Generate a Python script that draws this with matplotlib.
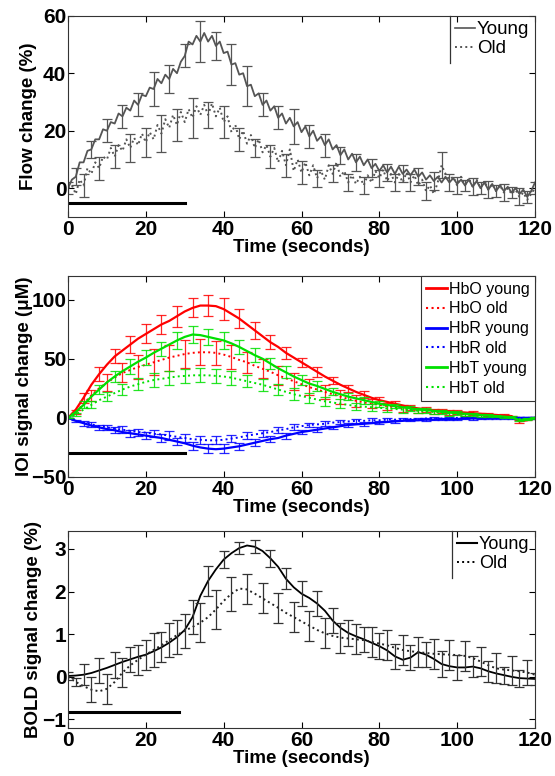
import matplotlib
matplotlib.use("Agg")
import matplotlib.pyplot as plt
from matplotlib.lines import Line2D

# ---------------- Panel 1: flow change (%) ----------------
flow_t = list(range(0, 121))
flow_young = [
    0, 3, 4, 9, 9, 13, 13.5, 17, 17, 20.5,
    20, 23, 22.5, 26, 25, 28, 27, 30.5, 29, 32.5,
    32, 35, 34.5, 38, 36.5, 39.5, 38, 41.5, 40, 44,
    46, 51, 50, 53, 51, 54, 51, 53, 49.5, 51,
    47, 47.5, 43, 43.5, 39.5, 40, 35.5, 36, 32, 33,
    29, 30.5, 27, 28.5, 24.5, 26, 22.5, 24.5, 21.5, 23,
    19.5, 21.5, 18, 20, 16.5, 18, 15, 17, 13.5, 15,
    11.5, 13.5, 10, 12, 9, 11, 8, 10, 7, 8.5,
    6, 8, 5.5, 7.5, 5, 7.5, 5, 6.5, 4.5, 6.5,
    4, 5.5, 3, 4.5, 2.5, 4, 2, 4, 2, 3.5,
    1.5, 3, 1, 3, 0.5, 2.5, 0, 2, -0.5, 1.5,
    -1, 1, -1, 0.5, -1.5, 0, -2, -0.5, -3, -1,
    2]
flow_old = [
    0, 1, -2, 3, 1, 7, 5, 9, 7, 11,
    10, 14, 11, 15, 13, 17, 14, 17.5, 15, 19,
    16, 19.5, 17, 22, 19, 24, 21, 25.5, 22, 26.5,
    23, 27.5, 24.5, 28.5, 25.5, 29, 25.5, 29.5, 25, 28,
    23, 25, 19.5, 22, 17, 20, 15.5, 18.5, 14, 17,
    12.5, 15, 11, 14, 9, 13, 8, 13.5, 6, 10,
    5.5, 9, 4.5, 8, 3.5, 6, 3, 8, 5, 9,
    4, 6, 2, 4.5, 1.5, 4, 1, 4.5, 2, 6,
    3.5, 6.5, 2.5, 5, 2, 5, 2, 5.5, 2, 4.5,
    1, 3, -1, 1, -2, 2, 8, 5, 3, 4,
    1, 4, 1, 3.5, 0.5, 3, 0, 2.5, -0.5, 1.5,
    -1, 1, -1.5, 0, -2, -0.5, -3, -1.5, -4, -2,
    0]
flow_young_err_t = list(range(2, 120, 4))
flow_young_err = [3, 3, 4, 4, 4, 6, 5, 4, 7, 5, 7, 7, 4, 4, 6,
                  4, 4, 3, 3, 3, 3, 3, 3, 3, 3, 2, 2, 2, 2, 2]
flow_old_err_t = list(range(0, 121, 4))
flow_old_err = [2, 4, 4, 4, 5, 5, 6.5, 5.5, 7, 4.5, 5.5, 4, 3, 4, 4, 4,
                3, 3, 3, 3, 3, 3, 3, 3, 4.5, 3, 3, 3, 3, 3, 2]

# ---------------- Panel 2: IOI signal change (uM) ----------------
ioi_t = list(range(0, 121, 2))
hbo_young = [0, 7, 17, 28, 37, 45, 52, 57, 62, 67, 71, 75, 79, 82, 86, 90, 93, 95, 95, 94.5,
             92, 88, 84, 79, 74, 69, 64, 60, 55, 51, 47, 43, 39, 35, 31.5, 28, 25, 22, 19.5, 17,
             15, 13.5, 12, 10.5, 9, 8, 7, 6.5, 6, 5.5, 5, 4.5, 4, 3.5, 3, 2.5, 2, 1.5, -3, -2, 0]
hbo_old = [0, 5, 12, 19, 25, 30, 34, 38, 40.5, 43, 45, 47, 49, 51, 52.5, 54, 55, 55.5, 55.5, 55,
           53.5, 51.5, 49, 47, 44, 41.5, 39, 36, 33.5, 31, 28.5, 26, 24, 22, 20, 18, 16, 14.5, 13, 12,
           11, 10, 9, 8, 7, 6.5, 6, 5.5, 5, 4.5, 4, 3.5, 3, 2.5, 2, 1.5, 1, 1, 0, -1, 0]
hbr_young = [0, -2.5, -4.5, -6.5, -8, -9.5, -10.5, -12, -13, -14, -15, -16, -17, -18.5, -20,
             -21.5, -23.5, -25, -26, -26.5, -26, -25, -24, -22.5, -21, -19.5, -18, -17, -15, -13.5,
             -12, -11, -10, -9, -8, -7, -6, -5.5, -5, -4.5, -4, -3.5, -3, -2.5, -2, -2, -1.5, -1.5,
             -1, -1, -1, -0.5, -0.5, -0.5, 0, 0, 0, 0, 0, 0, 0]
hbr_old = [0, -2.5, -4, -5.5, -7, -8, -9, -10, -11, -12, -12.5, -13.5, -14, -15, -16, -17, -18,
           -18.5, -19, -19, -18.5, -17.5, -16.5, -15, -14, -13, -12, -10.5, -9.5, -8, -7, -6, -5.5,
           -5, -4, -3.5, -3, -2.5, -2.5, -2, -2, -1.5, -1.5, -1, -1, -1, -0.5, -0.5, -0.5, -0.5,
           0, 0, 0, 0, 0, 0, 0, 0, 0, 0, 0]
hbt_young = [0, 5, 11, 18, 24, 30, 35, 39.5, 43.5, 47.5, 51, 55, 58.5, 62, 65.5, 68.5, 70.5, 70,
             68.5, 67, 65.5, 63, 60, 56.5, 53, 50, 46, 42, 38.5, 35, 32, 29, 27, 24.5, 22, 20, 18,
             16.5, 15, 13.5, 12, 11, 10, 9, 8, 7, 6.5, 6, 5, 4.5, 4, 3.5, 3, 2.5, 2, 1.5, 1, 0.5,
             -2, -1.5, 0]
hbt_old = [0, 3, 7, 11, 15, 18, 21, 24, 26.5, 28.5, 30.5, 32, 33, 34, 35, 35.5, 36, 36, 36, 35.5,
           35, 34, 32.5, 31, 29.5, 28, 26, 24, 22, 20, 18.5, 17, 15.5, 14, 13, 12, 11, 10, 9.5, 9,
           8.5, 8, 7.5, 7, 6.5, 6, 5.5, 5, 4.5, 4, 3.5, 3, 2.5, 2, 1.5, 1.5, 1, 0.5, -1, -1, 0]
# error bars: "young" at t = 0,4,...,120 ; "old" at t = 2,6,...,118
hbo_young_err = [0, 4, 6, 6, 7, 8, 8, 9, 8, 9, 9, 8, 7, 6, 5, 4, 4, 3, 3, 3, 2.5, 2, 2, 2,
                 1.5, 1.5, 1.5, 1, 1, 1, 1]
hbo_old_err = [2, 5, 7, 8, 10, 11, 11, 12, 11, 10, 10, 9, 8, 8, 7, 7, 6, 6, 5, 4, 3, 3, 2, 2,
               2, 1.5, 1.5, 1, 1, 1]
hbt_young_err = [0, 3, 4, 5, 6, 6, 6, 7, 7, 7, 7, 6, 6, 5, 5, 4, 4, 3, 3, 3, 2.5, 2, 2, 2,
                 1.5, 1.5, 1, 1, 1, 1, 1]
hbt_old_err = [1, 3, 4, 5, 5, 6, 6, 6, 6, 6, 6, 5, 5, 5, 5, 4, 4, 4, 3, 3, 3, 2.5, 2, 2, 2,
               1.5, 1.5, 1, 1, 1]
hbr_young_err = [0, 2, 2, 2.5, 3, 3, 3, 3, 3.5, 3.5, 3.5, 3, 3, 2.5, 2.5, 2, 2, 1.5, 1.5, 1.5,
                 1, 1, 1, 1, 1, 1, 1, 1, 1, 1, 1]
hbr_old_err = [1, 2, 2, 3, 3, 3, 3.5, 3.5, 3.5, 3.5, 3, 3, 3, 2.5, 2.5, 2, 2, 1.5, 1.5, 1.5,
               1, 1, 1, 1, 1, 1, 1, 1, 1, 1]
ioi_labels = ['HbO young', 'HbO old', 'HbR young', 'HbR old', 'HbT young', 'HbT old']

# ---------------- Panel 3: BOLD signal change (%) ----------------
bold_t = list(range(0, 121, 2))
bold_young = [0.02, 0.03, 0.05, 0.09, 0.15, 0.21, 0.28, 0.35, 0.41, 0.47, 0.52, 0.6, 0.69, 0.8,
              0.93, 1.1, 1.4, 1.9, 2.25, 2.52, 2.75, 2.9, 3.02, 3.08, 3.05, 2.95, 2.78, 2.58, 2.3,
              2.1, 1.95, 1.85, 1.72, 1.55, 1.32, 1.15, 1.03, 0.95, 0.88, 0.8, 0.72, 0.62, 0.48,
              0.4, 0.45, 0.58, 0.52, 0.42, 0.3, 0.25, 0.22, 0.22, 0.24, 0.2, 0.13, 0.08, 0.04,
              0.0, -0.03, -0.04, -0.05]
bold_old = [0, -0.12, -0.22, -0.3, -0.34, -0.28, -0.12, 0.1, 0.27, 0.4, 0.52, 0.63, 0.74, 0.86,
            0.98, 1.08, 1.17, 1.27, 1.4, 1.58, 1.78, 1.95, 2.07, 2.05, 1.95, 1.84, 1.73, 1.62, 1.5,
            1.4, 1.3, 1.2, 1.1, 1.02, 0.96, 0.92, 0.9, 0.88, 0.86, 0.82, 0.78, 0.74, 0.68, 0.63,
            0.6, 0.58, 0.56, 0.54, 0.53, 0.52, 0.51, 0.49, 0.44, 0.36, 0.27, 0.2, 0.17, 0.15,
            0.13, 0.1, 0.05]
bold_young_err = [0.1, 0.25, 0.3, 0.3, 0.3, 0.35, 0.35, 0.4, 0.4, 0.35, 0.2, 0.15, 0.15, 0.2,
                  0.25, 0.3, 0.3, 0.3, 0.3, 0.3, 0.3, 0.3, 0.3, 0.3, 0.3, 0.3, 0.25, 0.25, 0.2,
                  0.2, 0.15]
bold_old_err = [0.1, 0.3, 0.35, 0.35, 0.35, 0.4, 0.4, 0.4, 0.45, 0.45, 0.4, 0.35, 0.35, 0.35,
                0.35, 0.35, 0.35, 0.35, 0.35, 0.35, 0.35, 0.35, 0.35, 0.35, 0.35, 0.35, 0.35,
                0.35, 0.35, 0.3]

# stimulus bars (start, end, level) per panel
stim_flow = (0, 30, -5)
stim_ioi = (0, 30, -30)
stim_bold = (0, 28.5, -0.82)

# ---------------- drawing ----------------
plt.rcParams['font.family'] = ['Liberation Sans', 'DejaVu Sans']
plt.rcParams['axes.linewidth'] = 0.8

fig = plt.figure(figsize=(5.55, 7.76), dpi=100)
FW, FH = 555.0, 776.0
LEFT, RIGHT = 68.0, 535.0


def make_axes(top, bottom):
    return fig.add_axes([LEFT / FW, 1 - bottom / FH, (RIGHT - LEFT) / FW, (bottom - top) / FH])


ax1 = make_axes(15.7, 217)
ax2 = make_axes(276, 477)
ax3 = make_axes(531, 728)

TICK_FS = 15
LAB_FS = 13.5


def style(ax, ylabel, yticks, ylim, label_x):
    ax.set_xlim(0, 120)
    ax.set_xticks(range(0, 121, 20))
    ax.set_ylim(*ylim)
    ax.set_yticks(yticks)
    ax.tick_params(direction='in', top=True, right=True, length=4, width=0.8,
                   labelsize=TICK_FS)
    ax.tick_params(axis='x', pad=2)
    ax.tick_params(axis='y', pad=1.2)
    for lab in ax.get_xticklabels() + ax.get_yticklabels():
        lab.set_fontweight('bold')
    ax.set_xlabel('Time (seconds)', fontsize=LAB_FS, fontweight='bold', labelpad=0)
    ax.set_ylabel(ylabel, fontsize=LAB_FS, fontweight='bold')
    ax.yaxis.set_label_coords(label_x, 0.5)
    for s in ax.spines.values():
        s.set_color('#333333')


def sub(ts, vals, sel):
    idx = {t: i for i, t in enumerate(ts)}
    return [vals[idx[t]] for t in sel]


# Panel 1
gray = '#555555'
ax1.plot(flow_t, flow_young, color=gray, lw=1.3, ls='-')
ax1.plot(flow_t, flow_old, color=gray, lw=1.4, ls=':')
ax1.errorbar(flow_young_err_t, sub(flow_t, flow_young, flow_young_err_t), yerr=flow_young_err,
             fmt='none', ecolor=gray, elinewidth=0.9, capsize=3.5, capthick=0.9)
ax1.errorbar(flow_old_err_t, sub(flow_t, flow_old, flow_old_err_t), yerr=flow_old_err,
             fmt='none', ecolor=gray, elinewidth=0.9, capsize=3.5, capthick=0.9)
ax1.plot([stim_flow[0], stim_flow[1]], [stim_flow[2], stim_flow[2]], color='black', lw=2.2)
style(ax1, 'Flow change (%)', [0, 20, 40, 60], (-10, 60), -0.066)
h1 = [Line2D([], [], color=gray, lw=1.2, ls='-'), Line2D([], [], color=gray, lw=1.4, ls=':')]
leg1 = ax1.legend(h1, ['Young', 'Old'], loc='upper right', bbox_to_anchor=(1, 1),
                  frameon=False, fontsize=13.5, handlelength=1.05, handletextpad=0.1,
                  labelspacing=0.08, borderaxespad=0, borderpad=0.3)

# Panel 2
RED, GREEN, BLUE = '#ff0000', '#00e000', '#0000ff'
t_y = ioi_t[0::2]
t_o = ioi_t[1::2]
series = [
    (hbo_young, '-', RED, hbo_young_err, t_y, 1.6),
    (hbo_old, ':', RED, hbo_old_err, t_o, 1.4),
    (hbr_young, '-', BLUE, hbr_young_err, t_y, 1.6),
    (hbr_old, ':', BLUE, hbr_old_err, t_o, 1.4),
    (hbt_young, '-', GREEN, hbt_young_err, t_y, 1.6),
    (hbt_old, ':', GREEN, hbt_old_err, t_o, 1.4),
]
handles2 = []
for vals, ls, col, err, te, lw in series:
    ax2.plot(ioi_t, vals, color=col, ls=ls, lw=lw)
    ax2.errorbar(te, sub(ioi_t, vals, te), yerr=err, fmt='none', ecolor=col, elinewidth=0.9,
                 capsize=3.5, capthick=0.9, alpha=0.85)
    handles2.append(Line2D([], [], color=col, ls=ls, lw=2.0 if ls == '-' else 1.5))
ax2.plot([stim_ioi[0], stim_ioi[1]], [stim_ioi[2], stim_ioi[2]], color='black', lw=2.2)
style(ax2, 'IOI signal change (\u03bcM)', [-50, 0, 50, 100], (-50, 120), -0.075)
leg2 = ax2.legend(handles2, ioi_labels, loc='upper right', bbox_to_anchor=(1, 1),
                  frameon=True, fancybox=False, edgecolor='#333333', framealpha=1,
                  fontsize=11.5, handlelength=1.3, handletextpad=0.1, labelspacing=0.3,
                  borderaxespad=0, borderpad=0.35)
leg2.get_frame().set_linewidth(0.8)

# Panel 3
ax3.plot(bold_t, bold_young, color='black', lw=1.3, ls='-')
ax3.plot(bold_t, bold_old, color='#222222', lw=1.4, ls=':')
ax3.errorbar(t_y, sub(bold_t, bold_young, t_y), yerr=bold_young_err, fmt='none',
             ecolor='#333333', elinewidth=0.9, capsize=3.5, capthick=0.9)
ax3.errorbar(t_o, sub(bold_t, bold_old, t_o), yerr=bold_old_err, fmt='none',
             ecolor='#333333', elinewidth=0.9, capsize=3.5, capthick=0.9)
ax3.plot([stim_bold[0], stim_bold[1]], [stim_bold[2], stim_bold[2]], color='black', lw=2.2)
style(ax3, 'BOLD signal change (%)', [-1, 0, 1, 2, 3], (-1.2, 3.42), -0.055)
h3 = [Line2D([], [], color='black', lw=1.5, ls='-'), Line2D([], [], color='black', lw=1.4, ls=':')]
leg3 = ax3.legend(h3, ['Young', 'Old'], loc='upper right', bbox_to_anchor=(1, 1),
                  frameon=False, fontsize=13, handlelength=1.1, handletextpad=0.1,
                  labelspacing=0.1, borderaxespad=0, borderpad=0.3)

# left edge line for the frameless legends (as in the original)
fig.canvas.draw()
for ax, leg in ((ax1, leg1), (ax3, leg3)):
    bb = leg.get_window_extent().transformed(ax.transAxes.inverted())
    ax.plot([bb.x0, bb.x0], [bb.y0, 1], transform=ax.transAxes, color='#333333', lw=0.9,
            clip_on=False)

fig.savefig('out.png', dpi=100)
